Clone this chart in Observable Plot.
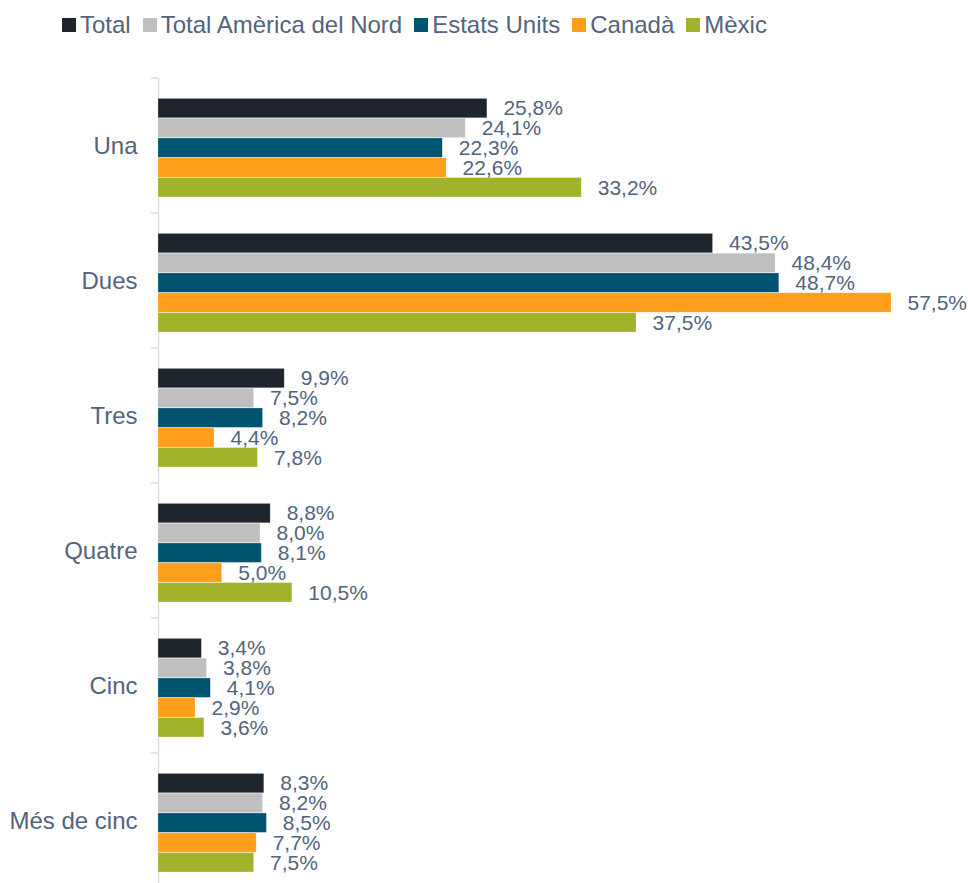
<!DOCTYPE html>
<html>
<head>
<meta charset="utf-8">
<script src="https://cdn.jsdelivr.net/npm/d3@7"></script>
<script src="https://cdn.jsdelivr.net/npm/@observablehq/plot@0.6"></script>
<style>
  html, body { margin: 0; padding: 0; background: #fff; overflow: hidden; }
  body { width: 968px; height: 883px; font-family: "Liberation Sans", Arial, sans-serif; }
  #legend { height: 50px; display: flex; align-items: center; padding-left: 62px; box-sizing: border-box; font-size: 24px; color: #53647c; }
  .item { display: flex; align-items: center; margin-right: 12px; }
  .sw { width: 14px; height: 14px; margin-right: 4px; }
  #chart svg { display: block; }
</style>
</head>
<body>
<div id="legend"></div>
<div id="chart"></div>
<script>
const categories = ["Una", "Dues", "Tres", "Quatre", "Cinc", "Més de cinc"];
const series = ["Total", "Total Amèrica del Nord", "Estats Units", "Canadà", "Mèxic"];
const colors = ["#1f252d", "#bfbfbf", "#00546f", "#ff9e1b", "#a2b22b"];
const total = [25.8, 43.5, 9.9, 8.8, 3.4, 8.3];
const northAmerica = [24.1, 48.4, 7.5, 8.0, 3.8, 8.2];
const usa = [22.3, 48.7, 8.2, 8.1, 4.1, 8.5];
const canada = [22.6, 57.5, 4.4, 5.0, 2.9, 7.7];
const mexico = [33.2, 37.5, 7.8, 10.5, 3.6, 7.5];

const textColor = "#53647c";
const seriesValues = [total, northAmerica, usa, canada, mexico];
const data = [];
categories.forEach((c, i) => {
  series.forEach((s, j) => {
    data.push({category: c, series: s, value: seriesValues[j][i]});
  });
});
const fmt = v => v.toFixed(1).replace(".", ",") + "%";

// legend
const legend = document.getElementById("legend");
series.forEach((s, j) => {
  const it = document.createElement("div");
  it.className = "item";
  const sw = document.createElement("div");
  sw.className = "sw";
  sw.style.background = colors[j];
  const t = document.createElement("span");
  t.textContent = s;
  it.appendChild(sw); it.appendChild(t);
  legend.appendChild(it);
});

const plot = Plot.plot({
  width: 968,
  height: 838,
  marginTop: 28,
  marginBottom: 0,
  marginLeft: 158,
  marginRight: 77,
  style: {fontFamily: "'Liberation Sans', Arial, sans-serif", color: textColor, background: "#fff"},
  x: {domain: [0, 57.5], axis: null},
  y: {domain: series, axis: null, paddingInner: 0.02, paddingOuter: 0.92, align: 0.56, round: false},
  fy: {domain: categories, paddingInner: 0, paddingOuter: 0, label: null, round: false},
  color: {domain: series, range: colors},
  marks: [
    Plot.axisFy({anchor: "left", tickSize: 0, tickPadding: 21, fontSize: 24, fill: textColor, label: null}),
    Plot.ruleX([0], {stroke: "#d9dee6", strokeWidth: 1.5}),
    Plot.barX(data, {x: "value", y: "series", fy: "category", fill: "series", stroke: "#ffffff", strokeOpacity: 0.4, strokeWidth: 0.6}),
    Plot.text(data, {x: "value", y: "series", fy: "category", text: d => fmt(d.value), textAnchor: "start", dx: 16, fontSize: 21, fill: textColor})
  ]
});
document.getElementById("chart").appendChild(plot);

// category boundary tick marks on the axis
const fy = plot.scale("fy");
const xs = plot.scale("x");
const x0 = xs.apply(0);
const svg = d3.select(plot);
const g = svg.append("g").attr("stroke", "#d9dee6").attr("stroke-width", 1.5);
categories.forEach(c => {
  const yTop = fy.apply(c);
  g.append("line").attr("x1", x0 - 7).attr("x2", x0).attr("y1", yTop).attr("y2", yTop);
});
</script>
</body>
</html>
